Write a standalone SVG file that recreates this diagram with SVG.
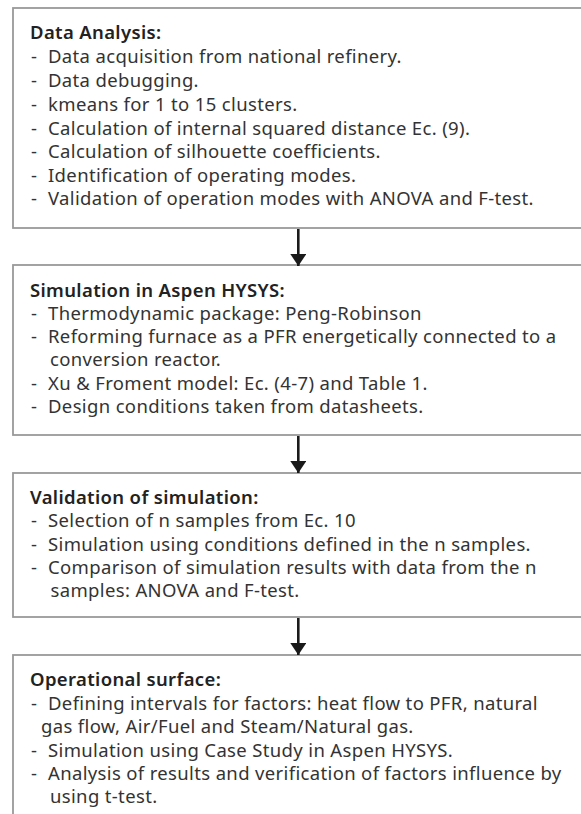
<svg xmlns="http://www.w3.org/2000/svg" width="581" height="814" viewBox="0 0 581 814">
<defs>
<marker id="ah" markerWidth="12" markerHeight="16" refX="12" refY="8" orient="auto" markerUnits="userSpaceOnUse" viewBox="0 0 12 16">
<path d="M0,0 L12,8 L0,16 Z" fill="#1a1a1a"/>
</marker>
</defs>
<style>
.box{fill:#fff;stroke:#999;stroke-width:1.8}
.t{font-family:"Noto Sans","Liberation Sans",sans-serif;font-size:18.5px;letter-spacing:0.35px;fill:#333}
.h{font-weight:600;fill:#222}
.c{stroke:#1a1a1a;stroke-width:2.6;fill:none}
</style>
<rect width="581" height="814" fill="#fff"/>
<g id="node1">
<rect class="box" x="13" y="8" width="580" height="220"/>
<text class="t"><tspan class="h" x="30" y="39">Data Analysis:</tspan>
<tspan x="31" y="63">-</tspan><tspan x="48" y="63">Data acquisition from national refinery.</tspan>
<tspan x="31" y="87">-</tspan><tspan x="48" y="87">Data debugging.</tspan>
<tspan x="31" y="111">-</tspan><tspan x="48" y="111">kmeans for 1 to 15 clusters.</tspan>
<tspan x="31" y="134.5">-</tspan><tspan x="48" y="134.5">Calculation of internal squared distance Ec. (9).</tspan>
<tspan x="31" y="158">-</tspan><tspan x="48" y="158">Calculation of silhouette coefficients.</tspan>
<tspan x="31" y="181.5">-</tspan><tspan x="48" y="181.5">Identification of operating modes.</tspan>
<tspan x="31" y="205">-</tspan><tspan x="48" y="205">Validation of operation modes with ANOVA and F-test.</tspan></text>
</g>
<g id="node2">
<rect class="box" x="13" y="265" width="580" height="170"/>
<text class="t"><tspan class="h" x="30" y="296.5">Simulation in Aspen HYSYS:</tspan>
<tspan x="31" y="319.5">-</tspan><tspan x="48" y="319.5">Thermodynamic package: Peng-Robinson</tspan>
<tspan x="31" y="343">-</tspan><tspan x="48" y="343">Reforming furnace as a PFR energetically connected to a</tspan>
<tspan x="50" y="366">conversion reactor.</tspan>
<tspan x="31" y="389.5">-</tspan><tspan x="48" y="389.5">Xu &amp; Froment model: Ec. (4-7) and Table 1.</tspan>
<tspan x="31" y="412.5">-</tspan><tspan x="48" y="412.5">Design conditions taken from datasheets.</tspan></text>
</g>
<g id="node3">
<rect class="box" x="13" y="473" width="580" height="144"/>
<text class="t"><tspan class="h" x="30" y="504">Validation of simulation:</tspan>
<tspan x="31" y="527">-</tspan><tspan x="48" y="527">Selection of n samples from Ec. 10</tspan>
<tspan x="31" y="550.5">-</tspan><tspan x="48" y="550.5">Simulation using conditions defined in the n samples.</tspan>
<tspan x="31" y="574">-</tspan><tspan x="48" y="574">Comparison of simulation results with data from the n</tspan>
<tspan x="50.5" y="597">samples: ANOVA and F-test.</tspan></text>
</g>
<g id="node4">
<rect class="box" x="13" y="655" width="580" height="180"/>
<text class="t"><tspan class="h" x="30" y="686">Operational surface:</tspan>
<tspan x="31" y="709.5">-</tspan><tspan x="48" y="709.5">Defining intervals for factors: heat flow to PFR, natural</tspan>
<tspan x="41" y="733">gas flow, Air/Fuel and Steam/Natural gas.</tspan>
<tspan x="31" y="756.5">-</tspan><tspan x="48" y="756.5">Simulation using Case Study in Aspen HYSYS.</tspan>
<tspan x="31" y="780">-</tspan><tspan x="48" y="780">Analysis of results and verification of factors influence by</tspan>
<tspan x="50" y="803">using t-test.</tspan></text>
</g>
<g id="connectors">
<line class="c" x1="298.3" y1="229" x2="298.3" y2="266" marker-end="url(#ah)"/>
<line class="c" x1="298.3" y1="436" x2="298.3" y2="473" marker-end="url(#ah)"/>
<line class="c" x1="298.3" y1="618" x2="298.3" y2="655" marker-end="url(#ah)"/>
</g>
</svg>
